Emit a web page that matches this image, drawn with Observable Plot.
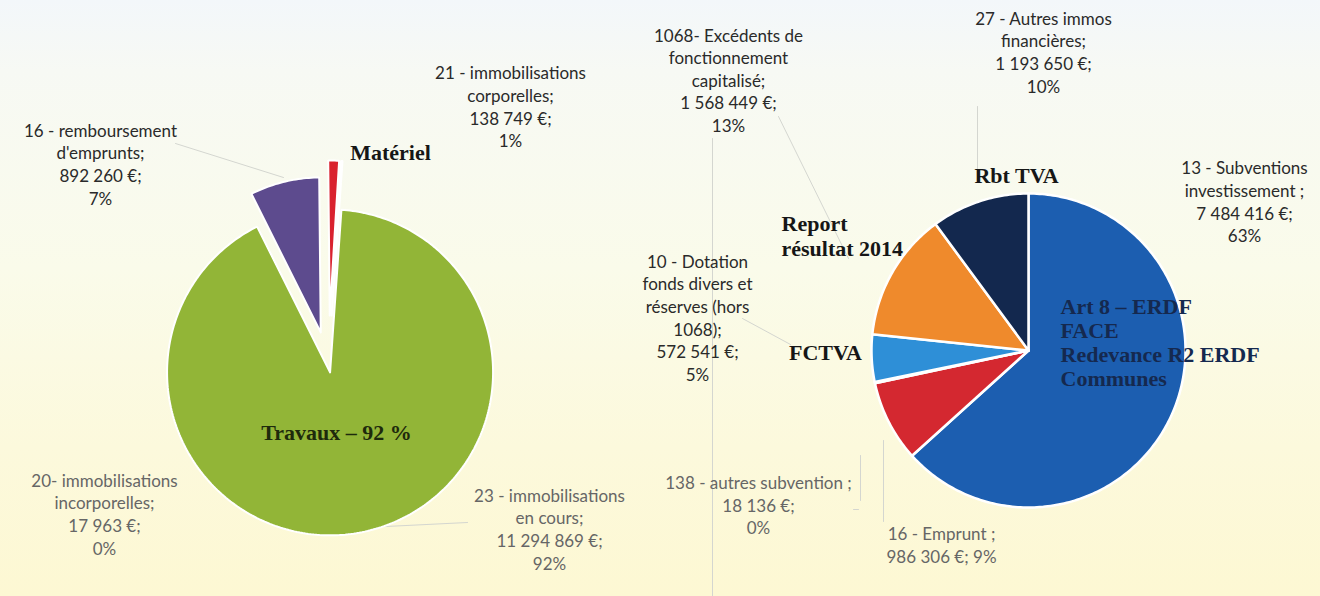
<!DOCTYPE html>
<html>
<head>
<meta charset="utf-8">
<script src="https://cdn.jsdelivr.net/npm/d3@7"></script>
<script src="https://cdn.jsdelivr.net/npm/@observablehq/plot@0.6"></script>
<style>
  html, body { margin: 0; padding: 0; }
  body {
    width: 1320px; height: 596px; overflow: hidden;
    background: linear-gradient(to bottom, #f3f7fa 0%, #f7f9f4 12%, #fafbea 45%, #fcf9dc 75%, #fdf8d3 100%);
  }
  #chart svg { display: block; }
</style>
</head>
<body>
<div id="chart"></div>
<script>
// ---------------- DATA ----------------
// Left pie: dépenses d'investissement (ordered clockwise from start angle)
const leftCategories = ["23 - immobilisations en cours", "16 - remboursement d'emprunts", "21 - immobilisations corporelles", "20- immobilisations incorporelles"];
const leftValues = [11294869, 892260, 138749, 17963];
const leftLabels = [
  "23 - immobilisations\nen cours;\n11 294 869 €;\n92%",
  "16 - remboursement\nd'emprunts;\n892 260 €;\n7%",
  "21 - immobilisations\ncorporelles;\n138 749 €;\n1%",
  "20- immobilisations\nincorporelles;\n17 963 €;\n0%"
];
const leftGroupNames = ["Travaux – 92 %", "", "Matériel", ""];

// Right pie: recettes d'investissement (ordered clockwise from 12 o'clock)
const rightCategories = ["13 - Subventions investissement", "16 - Emprunt", "138 - autres subvention", "10 - Dotation fonds divers et réserves (hors 1068)", "1068- Excédents de fonctionnement capitalisé", "27 - Autres immos financières"];
const rightValues = [7484416, 986306, 18136, 572541, 1568449, 1193650];
const rightLabels = [
  "13 - Subventions\ninvestissement ;\n7 484 416 €;\n63%",
  "16 - Emprunt ;\n986 306 €; 9%",
  "138 - autres subvention ;\n18 136 €;\n0%",
  "10 - Dotation\nfonds divers et\nréserves (hors\n1068);\n572 541 €;\n5%",
  "1068- Excédents de\nfonctionnement\ncapitalisé;\n1 568 449 €;\n13%",
  "27 - Autres immos\nfinancières;\n1 193 650 €;\n10%"
];
const rightGroupNames = ["Art 8 – ERDF\nFACE\nRedevance R2 ERDF\nCommunes", "", "", "FCTVA", "Report\nrésultat 2014", "Rbt TVA"];

// ---------------- LAYOUT / STYLE ----------------
const W = 1320, H = 596;
const leftPie = {cx: 328, cy: 364, start: 4,
  colors: ["#92b537", "#5d4b8e", "#d9222e", "#3b64a8"],
  explode: [8, 33, 49, 49], radius: [163, 155, 155, 155]};
const rightPie = {cx: 1028, cy: 350, start: 0,
  colors: ["#1c5eb0", "#d42830", "#c0c0c0", "#2e8fd7", "#ef8a2c", "#13284e"],
  explode: [0, 0, 0, 0, 0, 0], radius: [157, 157, 157, 157, 157, 157]};

const leftLabelPos = [
  {x: 549, y: 528, color: "#666666"},
  {x: 100, y: 163, color: "#2a2a2a"},
  {x: 510, y: 105.5, color: "#2a2a2a"},
  {x: 104, y: 513, color: "#666666"}
];
const rightLabelPos = [
  {x: 1244, y: 200.5, color: "#2a2a2a"},
  {x: 941, y: 544, color: "#666666"},
  {x: 758, y: 504, color: "#666666"},
  {x: 697, y: 316.5, color: "#2a2a2a"},
  {x: 728, y: 79, color: "#2a2a2a"},
  {x: 1043, y: 51, color: "#2a2a2a"}
];
const leftNamePos = [
  {x: 336, y: 432, anchor: "middle", color: "#1e2a0c", lh: 1.1},
  null,
  {x: 390, y: 152, anchor: "middle", color: "#161616", lh: 1.1},
  null
];
const rightNamePos = [
  {x: 1060, y: 342, anchor: "start", color: "#15294f", lh: 1.09},
  null, null,
  {x: 825, y: 352, anchor: "middle", color: "#161616", lh: 1.1},
  {x: 781, y: 235, anchor: "start", color: "#161616", lh: 1.14},
  {x: 1016, y: 175, anchor: "middle", color: "#161616", lh: 1.1}
];
// faint leader lines (annotation layout)
const leaders = [
  [[175, 143], [283, 177]],
  [[365, 527], [467, 522]],
  [[778, 116], [848, 258]],
  [[712, 138], [712, 596]],
  [[977, 106], [977, 180]],
  [[742, 318], [790, 344]],
  [[860, 455], [860, 500]],
  [[853, 509], [858, 509]],
  [[883, 440], [883, 521]]
];

// ---------------- BUILD SLICES ----------------
function buildSlices(values, pie, prefix) {
  const total = d3.sum(values);
  let acc = pie.start;
  const pts = [];
  values.forEach((v, i) => {
    const a0 = acc, a1 = acc + v / total * 360;
    acc = a1;
    const mid = (a0 + a1) / 2 * Math.PI / 180;
    const ax = pie.cx + pie.explode[i] * Math.sin(mid);
    const ay = pie.cy - pie.explode[i] * Math.cos(mid);
    const r = pie.radius[i];
    const id = prefix + i;
    const color = pie.colors[i];
    pts.push({id, x: ax, y: ay, color});
    const n = Math.max(2, Math.ceil((a1 - a0) / 1));
    for (let k = 0; k <= n; k++) {
      const a = (a0 + (a1 - a0) * k / n) * Math.PI / 180;
      pts.push({id, x: ax + r * Math.sin(a), y: ay - r * Math.cos(a), color});
    }
    pts.push({id, x: ax, y: ay, color});
  });
  return pts;
}

const leftPts = buildSlices(leftValues, leftPie, "L");
const rightPts = buildSlices(rightValues, rightPie, "R");

const labelFont = "Lato, 'Open Sans', sans-serif";
const serifFont = "'Liberation Serif', 'DejaVu Serif', serif";

const labelData = [
  ...leftLabels.map((t, i) => ({text: t, ...leftLabelPos[i]})),
  ...rightLabels.map((t, i) => ({text: t, ...rightLabelPos[i]}))
];
const nameData = [
  ...leftGroupNames.map((t, i) => ({text: t, p: leftNamePos[i]})),
  ...rightGroupNames.map((t, i) => ({text: t, p: rightNamePos[i]}))
].filter(d => d.p && d.text).map(d => ({text: d.text, ...d.p}));

const leaderPts = leaders.flatMap((seg, i) => seg.map(([x, y]) => ({id: i, x, y})));

const nameMarks = nameData.map(d => Plot.text([d], {
  x: "x", y: "y", text: "text", fill: "color",
  fontFamily: serifFont, fontWeight: "bold", fontSize: 22,
  lineHeight: d.lh, textAnchor: d.anchor
}));

const chart = Plot.plot({
  width: W, height: H,
  margin: 0,
  x: {domain: [0, W], range: [0, W], axis: null},
  y: {domain: [0, H], range: [0, H], axis: null},
  color: {type: "identity"},
  style: {background: "transparent", overflow: "visible"},
  marks: [
    Plot.line(leaderPts, {x: "x", y: "y", z: "id", stroke: "#d4d6d0", strokeWidth: 1}),
    Plot.line(leftPts, {x: "x", y: "y", z: "id", fill: "color", stroke: "white", strokeWidth: 2, strokeLinejoin: "miter", curve: "linear"}),
    Plot.line(rightPts, {x: "x", y: "y", z: "id", fill: "color", stroke: "white", strokeWidth: 2.5, strokeLinejoin: "round", curve: "linear"}),
    Plot.text(labelData, {x: "x", y: "y", text: "text", fill: "color", fontFamily: labelFont, fontSize: 17, lineHeight: 1.33, textAnchor: "middle"}),
    ...nameMarks
  ]
});
document.getElementById("chart").appendChild(chart);
</script>
</body>
</html>
